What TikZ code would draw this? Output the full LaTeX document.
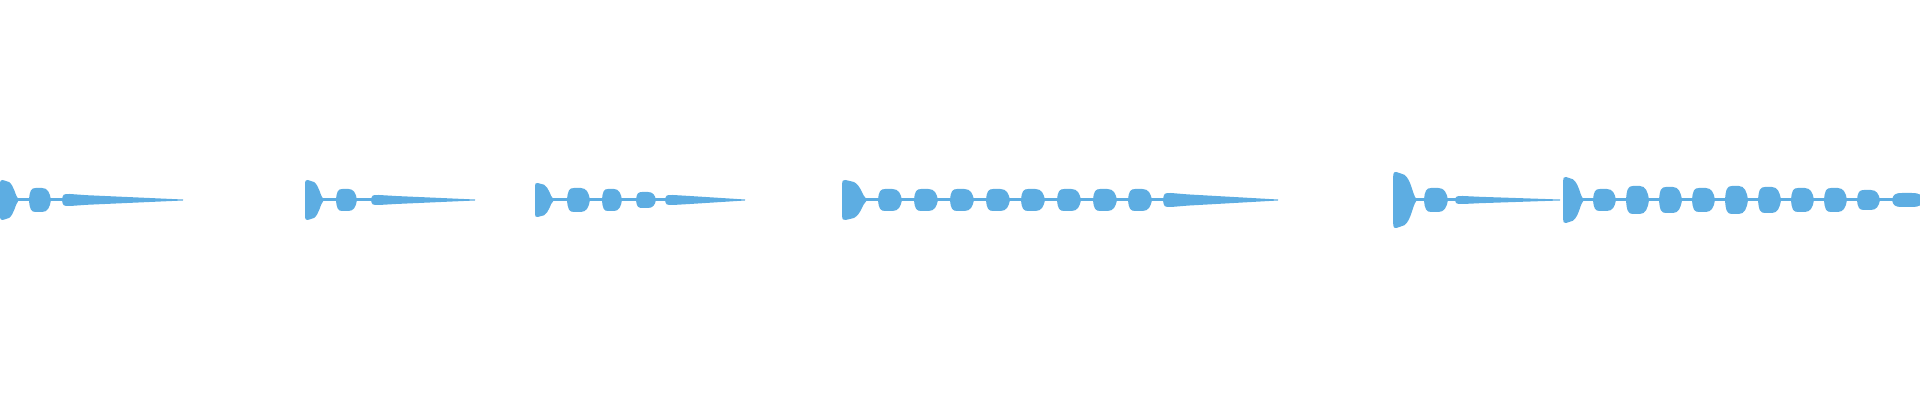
\documentclass[tikz,border=0pt]{standalone}
\definecolor{wav}{HTML}{5DADE2}
\newcommand{\wburst}[3]{% x1 x2 h
  \pgfmathsetmacro{\ba}{#1}\pgfmathsetmacro{\bb}{#2}\pgfmathsetmacro{\bh}{#3}
  \pgfmathsetmacro{\bL}{#2-#1}
  \fill[wav] (\ba,200) -- (\ba,200-0.75*\bh) .. controls (\ba+0.02*\bL,200-\bh) .. (\ba+0.15*\bL,200-\bh)
   -- (\ba+0.5*\bL,200-0.9*\bh) .. controls (\ba+0.8*\bL,200-0.7*\bh) and (\ba+0.85*\bL,200-0.2*\bh) .. (\bb,198.5)
   -- (\bb,201.5) .. controls (\ba+0.85*\bL,200+0.2*\bh) and (\ba+0.8*\bL,200+0.7*\bh) .. (\ba+0.5*\bL,200+0.9*\bh)
   -- (\ba+0.15*\bL,200+\bh) .. controls (\ba+0.02*\bL,200+\bh) .. (\ba,200+0.75*\bh) -- cycle;}
\newcommand{\wbump}[3]{%
  \pgfmathsetmacro{\ba}{#1}\pgfmathsetmacro{\bb}{#2}\pgfmathsetmacro{\bh}{#3}
  \pgfmathsetmacro{\bL}{#2-#1}
  \fill[wav] (\ba,200) .. controls (\ba+0.03*\bL,200-0.8*\bh) and (\ba+0.1*\bL,200-\bh) .. (\ba+0.3*\bL,200-\bh) -- (\bb-0.4*\bL,200-\bh)
   .. controls (\bb-0.15*\bL,200-\bh) and (\bb-0.05*\bL,200-0.6*\bh) .. (\bb,200)
   .. controls (\bb-0.05*\bL,200+0.6*\bh) and (\bb-0.15*\bL,200+\bh) .. (\bb-0.4*\bL,200+\bh) -- (\ba+0.3*\bL,200+\bh)
   .. controls (\ba+0.1*\bL,200+\bh) and (\ba+0.03*\bL,200+0.8*\bh) .. cycle;}
\newcommand{\wtail}[3]{%
  \pgfmathsetmacro{\ba}{#1}\pgfmathsetmacro{\bb}{#2}\pgfmathsetmacro{\bh}{#3}
  \fill[wav] (\ba,200) .. controls (\ba+1,200-\bh) .. (\ba+8,200-\bh) -- (\ba+25,200-0.8*\bh) -- (\bb,199.5) -- (\bb,200.5) -- (\ba+25,200+0.8*\bh) -- (\ba+8,200+\bh) .. controls (\ba+1,200+\bh) .. cycle;}
\newcommand{\wline}[2]{\fill[wav] (#1,198.5) rectangle (#2,201.5);}
\begin{document}
\begin{tikzpicture}[x=0.5pt,y=-0.5pt]
\useasboundingbox (0,0) rectangle (1920,400);
% group 1
\wline{0}{100}
\wburst{0}{18}{20}\wbump{29}{51}{12}\wtail{62}{183}{6}
% group 2
\wline{305}{400}
\wburst{305}{323}{20}\wbump{336}{357}{11}\wtail{371}{475}{5}
% group 3
\wline{535}{700}
\wburst{535}{553}{17}\wbump{567}{590}{12}\wbump{602}{622}{11}\wbump{636}{656}{8}\wtail{665}{745}{5}
% group 4
\wline{842}{1200}
\wburst{842}{866}{20}
\foreach \s in {878,914,950,986,1021,1057,1093,1128}{\wbump{\s}{\s+24}{11}}
\wtail{1163}{1278}{7}
% group 5
\wline{1393}{1460}
\wburst{1393}{1416}{28}\wbump{1424}{1448}{12}\wtail{1455}{1560}{4}
% group 6
\wline{1563}{1920}
\wburst{1563}{1583}{23}
\foreach \s/\h in {1593/11,1626/14,1659/13,1692/12,1725/14,1758/13,1791/12,1824/12,1857/10}{\wbump{\s}{\s+23}{\h}}
\wbump{1892}{1925}{7}
\end{tikzpicture}
\end{document}
